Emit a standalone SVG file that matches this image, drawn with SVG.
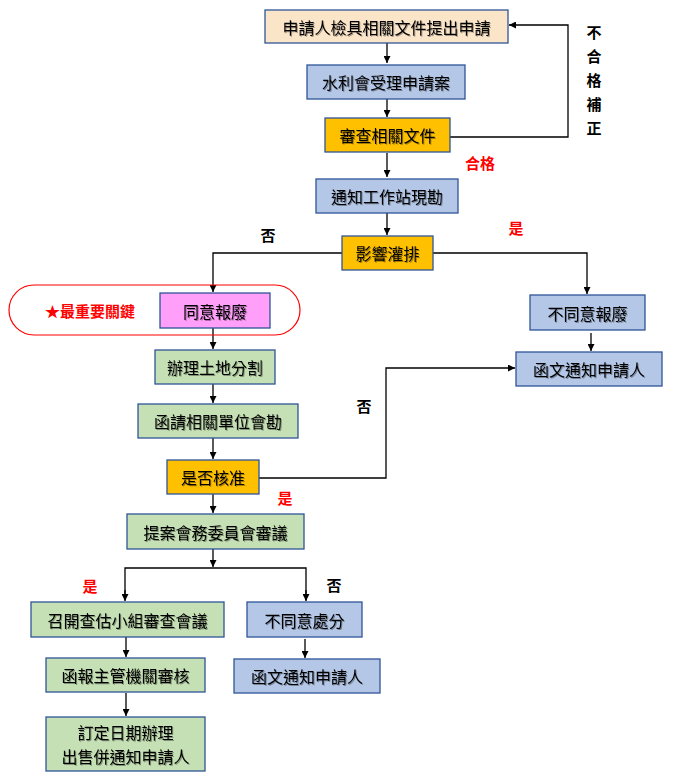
<svg xmlns="http://www.w3.org/2000/svg" width="681" height="782" viewBox="0 0 681 782">
<defs>
<marker id="ah" viewBox="0 0 10 10" refX="10" refY="5" markerWidth="7" markerHeight="7" markerUnits="userSpaceOnUse" orient="auto"><path d="M0,0 L10,5 L0,10 z" fill="#000"/></marker>
<filter id="sh" x="-10%" y="-10%" width="120%" height="130%"><feDropShadow dx="1" dy="1" stdDeviation="0.6" flood-color="#000" flood-opacity="0.35"/></filter>
</defs>
<style>
.b{stroke:#2F5597;stroke-width:1.3}
.peach{fill:#FBE5C9}.blue{fill:#B4C7E7}.orange{fill:#FFC000}.green{fill:#C5E0B4}.pink{fill:#FF9FF9}
.t{font-family:"Noto Sans CJK TC","Noto Sans CJK SC",sans-serif;font-size:16px;fill:#000;text-anchor:middle;dominant-baseline:central;filter:url(#sh)}
.l{font-family:"Noto Sans CJK TC","Noto Sans CJK SC",sans-serif;font-size:15px;font-weight:bold;text-anchor:middle;dominant-baseline:central}
.red{fill:#FF0000}.blk{fill:#000}
.c{fill:none;stroke:#000;stroke-width:1.3}
</style>
<rect width="681" height="782" fill="#fff"/>
<g id="connectors">
<path class="c" d="M387,43 V63" marker-end="url(#ah)"/>
<path class="c" d="M387,99 V117" marker-end="url(#ah)"/>
<path class="c" d="M450,137 H568 V25 H509" marker-end="url(#ah)"/>
<path class="c" d="M387,153 V177" marker-end="url(#ah)"/>
<path class="c" d="M387,213 V235" marker-end="url(#ah)"/>
<path class="c" d="M342,253 H213 V292" marker-end="url(#ah)"/>
<path class="c" d="M433,253 H587 V294" marker-end="url(#ah)"/>
<path class="c" d="M591,333 V351" marker-end="url(#ah)"/>
<path class="c" d="M213,328 V349" marker-end="url(#ah)"/>
<path class="c" d="M213,384 V403" marker-end="url(#ah)"/>
<path class="c" d="M213,438 V459" marker-end="url(#ah)"/>
<path class="c" d="M259,478 H386 V368 H515" stroke="#808080" marker-end="url(#ah)"/>
<path class="c" d="M213,494 V513" marker-end="url(#ah)"/>
<path class="c" d="M213,549 V567" marker-end="url(#ah)"/>
<path class="c" d="M125,600 V568 H306 V600" />
<path class="c" d="M125,590 V601" marker-end="url(#ah)"/>
<path class="c" d="M306,590 V601" marker-end="url(#ah)"/>
<path class="c" d="M126,637 V657" marker-end="url(#ah)"/>
<path class="c" d="M126,693 V716" marker-end="url(#ah)"/>
<path class="c" d="M305,639 V658" marker-end="url(#ah)"/>
</g>
<g id="labels">
<text class="l blk" x="594" y="31">不</text>
<text class="l blk" x="594" y="55">合</text>
<text class="l blk" x="594" y="79">格</text>
<text class="l blk" x="594" y="103">補</text>
<text class="l blk" x="594" y="127">正</text>
<text class="l red" x="480" y="162">合格</text>
<text class="l blk" x="268" y="234">否</text>
<text class="l red" x="516" y="227">是</text>
<text class="l blk" x="364" y="405">否</text>
<text class="l red" x="285" y="497">是</text>
<text class="l red" x="90" y="585">是</text>
<text class="l blk" x="334" y="584">否</text>
</g>
<g id="key">
<rect x="9" y="285" width="291" height="50" rx="25" ry="25" fill="none" stroke="#FF0000" stroke-width="1.2"/>
<text class="l red" x="90" y="310">★最重要關鍵</text>
</g>
<g id="n1"><rect class="b peach" x="265" y="10" width="243" height="33"/><text class="t" x="386.5" y="27">申請人檢具相關文件提出申請</text></g>
<g id="n2"><rect class="b blue" x="307" y="65" width="158" height="34"/><text class="t" x="386" y="82">水利會受理申請案</text></g>
<g id="n3"><rect class="b orange" x="325" y="118" width="125" height="34"/><text class="t" x="387.5" y="135">審查相關文件</text></g>
<g id="n4"><rect class="b blue" x="316" y="179" width="142" height="34"/><text class="t" x="387" y="196">通知工作站現勘</text></g>
<g id="n5"><rect class="b orange" x="342" y="236" width="91" height="34"/><text class="t" x="387.5" y="253">影響灌排</text></g>
<g id="n6"><rect class="b pink" x="160" y="293" width="110" height="35"/><text class="t" x="215" y="310.5">同意報廢</text></g>
<g id="n7"><rect class="b blue" x="530" y="295" width="115" height="35"/><text class="t" x="587.5" y="312.5">不同意報廢</text></g>
<g id="n8"><rect class="b blue" x="516" y="352" width="146" height="34"/><text class="t" x="589" y="369">函文通知申請人</text></g>
<g id="n9"><rect class="b green" x="155" y="350" width="120" height="34"/><text class="t" x="215" y="367">辦理土地分割</text></g>
<g id="n10"><rect class="b green" x="138" y="404" width="160" height="34"/><text class="t" x="218" y="421">函請相關單位會勘</text></g>
<g id="n11"><rect class="b orange" x="167" y="460" width="92" height="34"/><text class="t" x="213" y="477">是否核准</text></g>
<g id="n12"><rect class="b green" x="127" y="514" width="177" height="35"/><text class="t" x="215.5" y="531.5">提案會務委員會審議</text></g>
<g id="n13"><rect class="b green" x="31" y="602" width="193" height="35"/><text class="t" x="127.5" y="619.5">召開查估小組審查會議</text></g>
<g id="n14"><rect class="b blue" x="247" y="602" width="115" height="35"/><text class="t" x="304.5" y="619.5">不同意處分</text></g>
<g id="n15"><rect class="b green" x="46" y="658" width="159" height="34"/><text class="t" x="125.5" y="675">函報主管機關審核</text></g>
<g id="n16"><rect class="b blue" x="234" y="659" width="146" height="34"/><text class="t" x="307" y="676">函文通知申請人</text></g>
<g id="n17"><rect class="b green" x="46" y="717" width="159" height="54"/><text class="t" x="125.5" y="732">訂定日期辦理</text><text class="t" x="125.5" y="756">出售併通知申請人</text></g>
</svg>
